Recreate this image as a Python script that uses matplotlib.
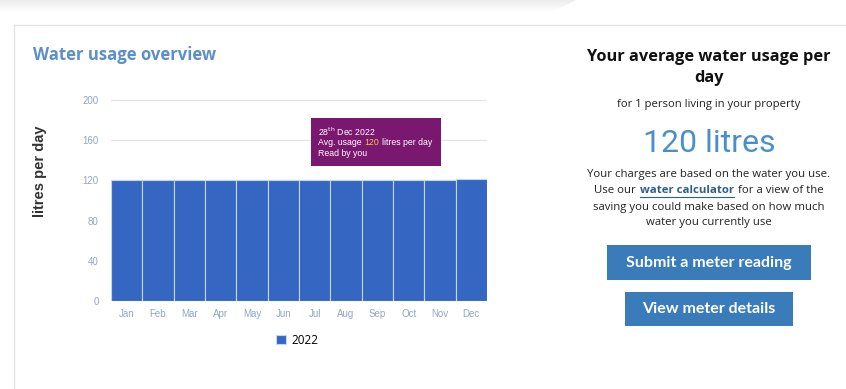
import numpy as np
import matplotlib
matplotlib.use("Agg")
import matplotlib.pyplot as plt
from matplotlib.patches import Rectangle

# data
months = ['Jan', 'Feb', 'Mar', 'Apr', 'May', 'Jun',
          'Jul', 'Aug', 'Sep', 'Oct', 'Nov', 'Dec']
usage = [120, 120, 120, 120, 120, 120, 120, 120, 120, 120, 120, 121]
yticks = [0, 40, 80, 120, 160, 200]
series_name = '2022'
average = 120

W, H = 846, 389


def px(x, y):
    # pixel coords (top-left origin) -> figure fraction
    return x / W, 1 - y / H


fig = plt.figure(figsize=(W / 100, H / 100), dpi=100)
fig.patch.set_facecolor('white')

# page decoration: top shadow + card border
bg = fig.add_axes([0, 0, 1, 1], zorder=-5)
bg.set_xlim(0, W)
bg.set_ylim(H, 0)
bg.axis('off')
for i in range(12):
    bg.add_patch(Rectangle((0, i), 575 - i * 2, 1, color='#d8d8d8',
                           alpha=0.45 * (1 - i / 12), lw=0))
bg.plot([14, W], [25, 25], color='#e4e4e4', lw=1)
bg.plot([14, 14], [25, H], color='#e4e4e4', lw=1)

# bar chart
l, r, b, t = 111, 487, 301, 100
ax = fig.add_axes([l / W, 1 - b / H, (r - l) / W, (b - t) / H])
x = np.arange(len(months))
bars = ax.bar(x, usage, width=1.0, color='#3566c1', edgecolor='#c3d4ee',
              linewidth=0.8, label=series_name, zorder=3)
ax.set_xlim(-0.5, len(months) - 0.5)
ax.set_ylim(0, 200)
ax.set_yticks(yticks)
ax.set_xticks(x, months)
ax.grid(axis='y', color='#e3e3e3', lw=0.8, zorder=0)
for s in ax.spines.values():
    s.set_visible(False)
ax.tick_params(length=0, colors='#93a6c4', labelsize=7)
ax.tick_params(axis='y', pad=9)
ax.tick_params(axis='x', pad=6)
for lab in ax.get_xticklabels() + ax.get_yticklabels():
    lab.set_fontfamily('Liberation Sans')

ax.legend(handles=[bars], loc='center', bbox_to_anchor=px(297, 340),
          bbox_transform=fig.transFigure, frameon=False,
          handlelength=0.9, handleheight=0.9, handletextpad=0.4,
          prop={'family': 'Open Sans', 'size': 8.5})

fig.text(*px(40, 171), 'litres per day', rotation=90, ha='center', va='center',
         fontsize=10.5, fontweight='bold', color='#333333', family='Liberation Sans')
fig.text(*px(33, 55), 'Water usage overview', ha='left', va='center',
         fontsize=12, fontweight='bold', color='#5b8fc9', family='Open Sans')

# overlay for tooltip, above the bars
top = fig.add_axes([0, 0, 1, 1], zorder=10)
top.set_xlim(0, W)
top.set_ylim(H, 0)
top.axis('off')

fig.canvas.draw()
rend = fig.canvas.get_renderer()
inv = bg.transData.inverted()


def text_width(o):
    bb = inv.transform(o.get_window_extent(rend))
    return abs(bb[1][0] - bb[0][0])


# tooltip
top.add_patch(Rectangle((311, 118), 130, 48, color='#7a176f', lw=0))
tt = dict(fontsize=6.3, color='white', family='Liberation Sans', va='center')
top.text(318, 132, '28$^{\\rm th}$ Dec 2022', **tt)
top.text(318, 153, 'Read by you', **tt)
t1 = top.text(318, 142.7, 'Avg. usage', **tt)
x1 = 318 + text_width(t1) + 3
t2 = top.text(x1, 142.7, str(average), **{**tt, 'color': '#f5c242'})
x2 = x1 + text_width(t2) + 3
top.text(x2, 142.7, 'litres per day', **tt)

# right panel
cx = 709
fig.text(*px(cx, 57), 'Your average water usage per', ha='center', va='center',
         fontsize=11.8, fontweight='bold', color='#111111', family='Open Sans')
fig.text(*px(cx, 78), 'day', ha='center', va='center',
         fontsize=11.8, fontweight='bold', color='#111111', family='Open Sans')
fig.text(*px(cx, 104), 'for 1 person living in your property', ha='center', va='center',
         fontsize=8.1, color='#222222', family='Open Sans')
fig.text(*px(cx, 143), f'{average} litres', ha='center', va='center',
         fontsize=23, color='#4a8fcc', family='Roboto')
para = dict(ha='center', va='center', fontsize=8.2, color='#222222', family='Open Sans')
fig.text(*px(cx, 174), 'Your charges are based on the water you use.', **para)
fig.text(*px(cx, 207), 'saving you could make based on how much', **para)
fig.text(*px(cx, 223), 'water you currently use', **para)

# line with link
parts = [('Use our', '#222222', 'normal'), ('water calculator', '#2c5f8f', 'bold'),
         ('for a view of the', '#222222', 'normal')]
objs = []
for s, c, w in parts:
    objs.append(bg.text(0, 190, s, va='center', ha='left', fontsize=8.2,
                        color=c, fontweight=w, family='Open Sans'))
widths = [text_width(o) for o in objs]
gap = 4
xs = cx - (sum(widths) + 2 * gap) / 2
for o, wdt in zip(objs, widths):
    o.set_x(xs)
    if o.get_text() == 'water calculator':
        bg.plot([xs, xs + wdt], [197, 197], color='#2c5f8f', lw=0.8)
    xs += wdt + gap

# buttons
for (x0, y0, x1b, y1b), label in [((607, 245, 811, 280), 'Submit a meter reading'),
                                  ((625, 292, 793, 326), 'View meter details')]:
    bg.add_patch(Rectangle((x0, y0), x1b - x0, y1b - y0, color='#3a7cb9', lw=0))
    bg.text((x0 + x1b) / 2, (y0 + y1b) / 2, label, ha='center', va='center',
            fontsize=11.5, fontweight='bold', color='white', family='Lato')

fig.savefig('out.png', dpi=100)
